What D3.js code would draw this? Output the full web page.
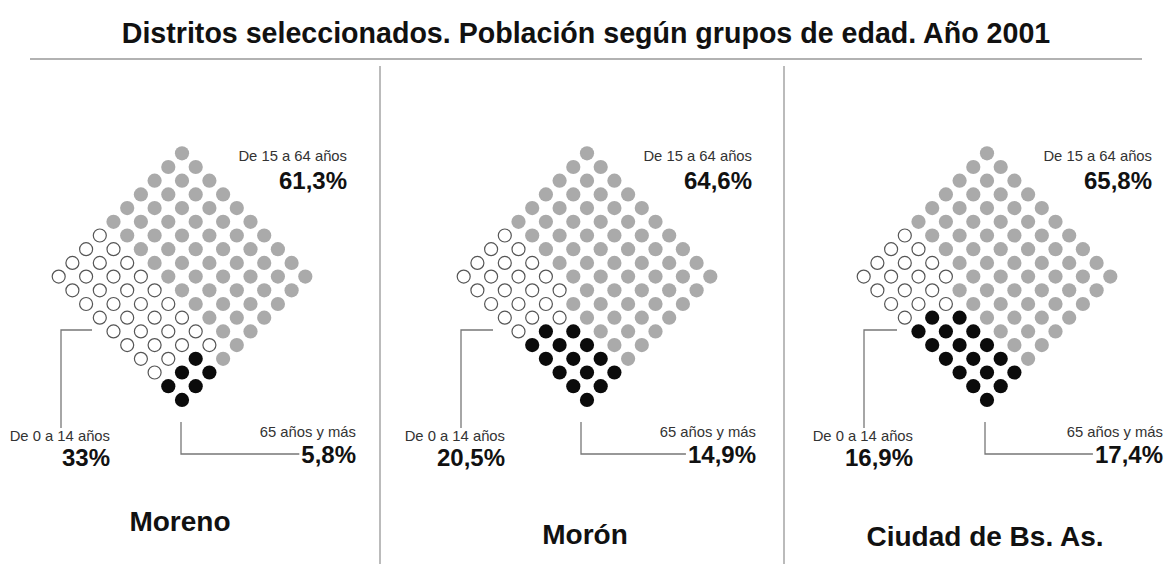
<!DOCTYPE html>
<html>
<head>
<meta charset="utf-8">
<script src="https://cdn.jsdelivr.net/npm/d3@7"></script>
<style>
  body { margin: 0; background: #fff; }
  svg { display: block; font-family: 'Liberation Sans', Arial, sans-serif; }
</style>
</head>
<body>
<div id="chart"></div>
<script>
// Data
const districts = ['Moreno', 'Morón', 'Ciudad de Bs. As.']
const pctYoung = [33, 20.5, 16.9]     // De 0 a 14 años
const pctAdult = [61.3, 64.6, 65.8]   // De 15 a 64 años
const pctOld = [5.8, 14.9, 17.4]      // 65 años y más
// dots per row (last 4 rows of the 10x10 grid) as drawn in the original
const youngPerRow = [[9, 8, 8, 8], [5, 6, 5, 5], [4, 5, 4, 4]]
const oldPerRow = [[0, 2, 2, 2], [0, 4, 5, 5], [0, 5, 6, 6]]

// Constants
const width = 1170
const height = 564
const step = 13.7
const radius = 7.1
const COLORS = { young: '#fff', adult: '#aaaaaa', old: '#0b0b0b' }

// Panel layout (pixels, relative to diamond centre)
const panels = [
  { cx: 182, youngRight: -72, youngLine: -121, youngLineEnd: -90, oldLine: -1, oldRight: 174, nameY: 531 },
  { cx: 587, youngRight: -82, youngLine: -126, youngLineEnd: -94, oldLine: -6, oldRight: 169, nameY: 544 },
  { cx: 987, youngRight: -74, youngLine: -123, youngLineEnd: -90, oldLine: -2, oldRight: 176, nameY: 546 }
]

const fmt = v => String(v).replace('.', ',') + '%'

const svg = d3.select('#chart').append('svg')
  .attr('width', width)
  .attr('height', height)

// Title
svg.append('text')
  .attr('x', 586)
  .attr('y', 43)
  .attr('text-anchor', 'middle')
  .style('font-size', '28.6px')
  .style('font-weight', 'bold')
  .attr('fill', '#111')
  .text('Distritos seleccionados. Población según grupos de edad. Año 2001')

svg.append('line')
  .attr('x1', 30).attr('x2', 1142)
  .attr('y1', 59).attr('y2', 59)
  .attr('stroke', '#999')
  .attr('stroke-width', 1.6)

// Dividers
svg.selectAll('.divider')
  .data([380, 784])
  .enter()
  .append('line')
  .attr('class', 'divider')
  .attr('x1', d => d).attr('x2', d => d)
  .attr('y1', 66).attr('y2', height)
  .attr('stroke', '#aaa')
  .attr('stroke-width', 1.6)

const yScale = d3.scaleLinear().domain([0, 18]).range([153.3, 153.3 + 18 * step])

districts.forEach((name, k) => {
  const p = panels[k]
  const xScale = d3.scaleLinear().domain([-9, 9]).range([p.cx - 9 * step, p.cx + 9 * step])

  // Build cells of the rotated 10x10 grid
  const cells = []
  for (let j = 0; j < 10; j++) {
    for (let i = 0; i < 10; i++) {
      let group = 'adult'
      if (j >= 6) {
        const r = j - 6
        if (i < youngPerRow[k][r]) group = 'young'
        else if (i >= 10 - oldPerRow[k][r]) group = 'old'
      }
      cells.push({ i, j, group })
    }
  }

  const g = svg.append('g')

  g.selectAll('circle')
    .data(cells)
    .enter()
    .append('circle')
    .attr('cx', d => xScale(d.i - d.j))
    .attr('cy', d => yScale(d.i + d.j))
    .attr('r', d => d.group === 'young' ? radius - 0.6 : radius)
    .attr('fill', d => COLORS[d.group])
    .attr('stroke', d => d.group === 'young' ? '#555' : 'none')
    .attr('stroke-width', 1.2)

  // Top-right label
  const right = p.cx + 165
  g.append('text')
    .attr('x', right).attr('y', 161)
    .attr('text-anchor', 'end')
    .style('font-size', '14.8px')
    .attr('fill', '#333')
    .text('De 15 a 64 años')
  g.append('text')
    .attr('x', right).attr('y', 189)
    .attr('text-anchor', 'end')
    .style('font-size', '24px')
    .style('font-weight', 'bold')
    .attr('fill', '#111')
    .text(fmt(pctAdult[k]))

  // Bottom-left label with leader
  g.append('path')
    .attr('d', `M${p.cx + p.youngLineEnd},330 H${p.cx + p.youngLine} V428`)
    .attr('fill', 'none')
    .attr('stroke', '#777')
    .attr('stroke-width', 1.3)
  g.append('text')
    .attr('x', p.cx + p.youngRight).attr('y', 441)
    .attr('text-anchor', 'end')
    .style('font-size', '14.8px')
    .attr('fill', '#333')
    .text('De 0 a 14 años')
  g.append('text')
    .attr('x', p.cx + p.youngRight).attr('y', 466)
    .attr('text-anchor', 'end')
    .style('font-size', '24px')
    .style('font-weight', 'bold')
    .attr('fill', '#111')
    .text(fmt(pctYoung[k]))

  // Bottom-right label with leader
  const oldText = g.append('text')
    .attr('x', p.cx + p.oldRight).attr('y', 463)
    .attr('text-anchor', 'end')
    .style('font-size', '24px')
    .style('font-weight', 'bold')
    .attr('fill', '#111')
    .text(fmt(pctOld[k]))
  const textLeft = p.cx + p.oldRight - oldText.node().getComputedTextLength()
  g.append('path')
    .attr('d', `M${p.cx + p.oldLine},422 V454 H${textLeft - 2}`)
    .attr('fill', 'none')
    .attr('stroke', '#777')
    .attr('stroke-width', 1.3)
  g.append('text')
    .attr('x', p.cx + p.oldRight).attr('y', 437)
    .attr('text-anchor', 'end')
    .style('font-size', '14.8px')
    .attr('fill', '#333')
    .text('65 años y más')

  // District name
  g.append('text')
    .attr('x', p.cx - 2).attr('y', p.nameY)
    .attr('text-anchor', 'middle')
    .style('font-size', '28px')
    .style('font-weight', 'bold')
    .attr('fill', '#111')
    .text(name)
})
</script>
</body>
</html>
